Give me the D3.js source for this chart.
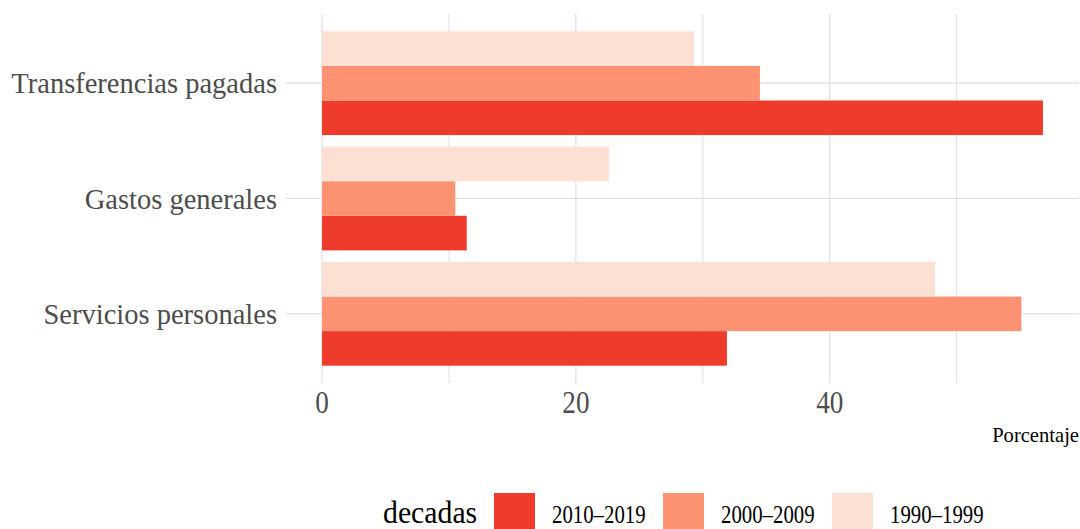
<!DOCTYPE html>
<meta charset="utf-8">
<script src="https://d3js.org/d3.v7.min.js"></script>
<style>
  body { margin: 0; background: #fff; }
  text { font-family: "Liberation Serif", "DejaVu Serif", serif; }
</style>
<div id="my_dataviz"></div>
<script>
// categories (top to bottom) and decades (legend order)
var categories = ["Transferencias pagadas", "Gastos generales", "Servicios personales"];
var decades = ["2010–2019", "2000–2009", "1990–1999"];

// percentages per decade, same order as categories
var v2010 = [56.8, 11.4, 31.9];
var v2000 = [34.5, 10.5, 55.1];
var v1990 = [29.3, 22.6, 48.3];

var majorTicks = [0, 20, 40];
var minorTicks = [10, 30, 50];

var colors = ["#EF3B2C", "#FC9272", "#FCE0D4"];

var width = 1080, height = 529;
var panel = {left: 286, right: 1079, top: 14, bottom: 383};

var svg = d3.select("#my_dataviz")
  .append("svg")
    .attr("width", width)
    .attr("height", height);

// build long table
var series = [v2010, v2000, v1990];
var data = [];
decades.forEach(function(d, i) {
  categories.forEach(function(c, j) {
    data.push({decada: d, cat: c, value: series[i][j], color: colors[i]});
  });
});

var maxV = d3.max(data, function(d) { return d.value; });
var x = d3.scaleLinear()
  .domain([-0.05 * maxV, maxV * 1.05])
  .range([panel.left, panel.right]);

var y = d3.scaleBand()
  .domain(categories)
  .range([panel.top, panel.bottom])
  .paddingInner(0.1)
  .paddingOuter(0.15);

// light bar on top, red at the bottom
var yInner = d3.scaleBand()
  .domain(decades.slice().reverse())
  .range([0, y.bandwidth()]);

// squeeze the text a little, the original font is narrower than Times
function condense(sel, k) {
  sel.each(function() {
    var w = this.getComputedTextLength();
    d3.select(this).attr("textLength", w * k).attr("lengthAdjust", "spacingAndGlyphs");
  });
}

// grid
var grid = svg.append("g");
grid.selectAll(".minor")
  .data(minorTicks)
  .enter().append("line")
    .attr("x1", function(d) { return x(d); })
    .attr("x2", function(d) { return x(d); })
    .attr("y1", panel.top).attr("y2", panel.bottom)
    .style("stroke", "#DEDEDE").style("stroke-width", 1);
grid.selectAll(".major")
  .data(majorTicks)
  .enter().append("line")
    .attr("x1", function(d) { return x(d); })
    .attr("x2", function(d) { return x(d); })
    .attr("y1", panel.top).attr("y2", panel.bottom)
    .style("stroke", "#DEDEDE").style("stroke-width", 1.2);
grid.selectAll(".hgrid")
  .data(categories)
  .enter().append("line")
    .attr("x1", panel.left).attr("x2", panel.right)
    .attr("y1", function(d) { return y(d) + y.bandwidth() / 2; })
    .attr("y2", function(d) { return y(d) + y.bandwidth() / 2; })
    .style("stroke", "#DEDEDE").style("stroke-width", 1.2);

// bars
svg.append("g")
  .selectAll("rect")
  .data(data)
  .enter().append("rect")
    .attr("x", x(0))
    .attr("y", function(d) { return y(d.cat) + yInner(d.decada); })
    .attr("width", function(d) { return x(d.value) - x(0); })
    .attr("height", yInner.bandwidth())
    .style("fill", function(d) { return d.color; });

// y axis labels
svg.append("g")
  .selectAll("text")
  .data(categories)
  .enter().append("text")
    .attr("x", 277)
    .attr("y", function(d) { return y(d) + y.bandwidth() / 2 + 10; })
    .attr("text-anchor", "end")
    .style("font-size", "30px")
    .style("fill", "#4D4D4D")
    .text(function(d) { return d; })
    .call(condense, 0.95);

// x axis labels
svg.append("g")
  .selectAll("text")
  .data(majorTicks)
  .enter().append("text")
    .attr("x", function(d) { return x(d); })
    .attr("y", 413)
    .attr("text-anchor", "middle")
    .style("font-size", "32px")
    .style("fill", "#4D4D4D")
    .text(function(d) { return d; })
    .call(condense, 0.85);

// x axis title
svg.append("text")
  .attr("x", 1079)
  .attr("y", 442)
  .attr("text-anchor", "end")
  .style("font-size", "21px")
  .style("fill", "#000")
  .text("Porcentaje")
  .call(condense, 0.98);

// legend
var legend = svg.append("g");
legend.append("text")
  .attr("x", 383)
  .attr("y", 523)
  .style("font-size", "31px")
  .style("fill", "#000")
  .text("decadas")
  .call(condense, 0.96);

var item = legend.selectAll(".item")
  .data(decades)
  .enter().append("g")
    .attr("transform", function(d, i) { return "translate(" + (494 + i * 169) + ",493)"; });
item.append("rect")
  .attr("width", 41)
  .attr("height", 36)
  .style("fill", function(d, i) { return colors[i]; });
item.append("text")
  .attr("x", 58)
  .attr("y", 30)
  .style("font-size", "26px")
  .style("fill", "#000")
  .text(function(d) { return d; })
  .call(condense, 0.8);
</script>
